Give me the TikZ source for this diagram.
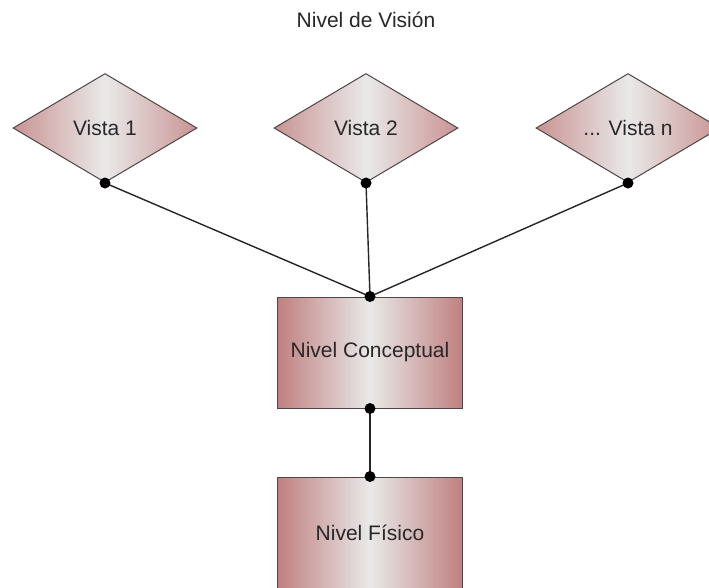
\documentclass[tikz,border=0pt]{standalone}
\usepackage{fontspec}
\setmainfont{Liberation Sans}
\usetikzlibrary{shapes.geometric}
\definecolor{rosa}{RGB}{192,128,128}
\definecolor{claro}{RGB}{233,233,233}
\definecolor{borde}{RGB}{80,70,70}
\definecolor{texto}{RGB}{40,40,40}
\tikzset{
  lbl/.style={text=texto, font=\fontsize{21}{25}\selectfont},
  vista/.style={diamond, draw=borde, line width=1pt, inner sep=0pt,
    minimum width=184pt, minimum height=109pt,
    left color=rosa!85, right color=rosa!85, middle color=claro, lbl},
  nivel/.style={rectangle, draw=borde, line width=1pt, inner sep=0pt,
    minimum width=185pt, minimum height=111pt,
    left color=rosa, right color=rosa, middle color=claro, lbl},
  enlace/.style={draw=black!85, line width=1.4pt},
  punto/.style={fill=black}
}
\begin{document}
\begin{tikzpicture}[x=1pt,y=-1pt]
  \clip (0,0) rectangle (709,587);
  \fill[white] (0,0) rectangle (709,587);

  \node[lbl] (titulo) at (366,20) {Nivel de Visión};

  \node[vista] (v1) at (105,128) {Vista 1};
  \node[vista] (v2) at (366,128) {Vista 2};
  \node[vista] (vn) at (628,128) {... Vista n};

  \node[nivel] (conc) at (370,352.5) {Nivel Conceptual};
  \node[nivel] (fis) at (370,532.5) {Nivel Físico};

  \draw[enlace] (v1.south) -- (conc.north);
  \draw[enlace] (v2.south) -- (conc.north);
  \draw[enlace] (vn.south) -- (conc.north);
  \draw[enlace] (conc.south) -- (fis.north);

  \foreach \p in {v1.south, v2.south, vn.south, conc.north, conc.south, fis.north}
    \fill[punto] (\p) circle (5.5pt);
\end{tikzpicture}
\end{document}
